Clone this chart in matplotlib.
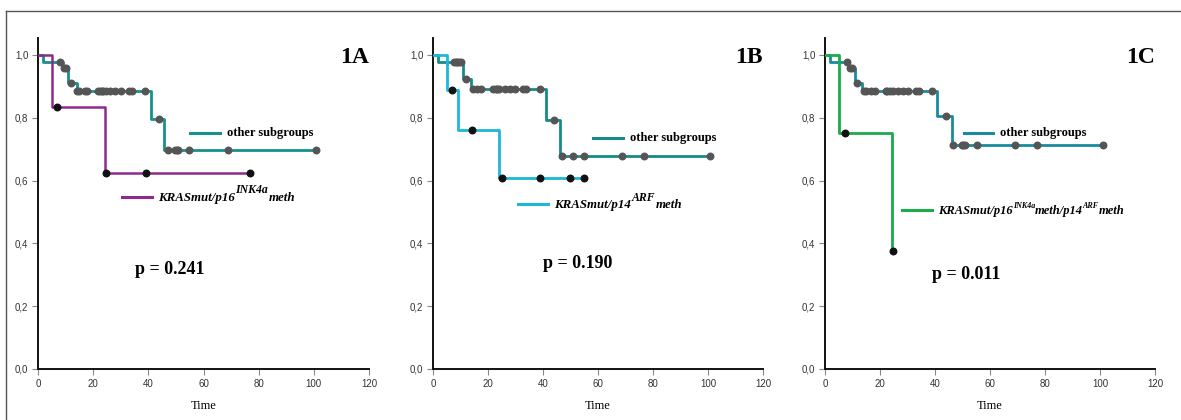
import numpy as np
import matplotlib.pyplot as plt
from matplotlib.lines import Line2D

# ---- data (Kaplan-Meier steps) ----
# panel 1A
a_other_t = [0, 1.9, 9.0, 11.0, 14.0, 41.0, 45.8, 100.8]
a_other_s = [1.0, 0.977, 0.960, 0.912, 0.885, 0.797, 0.697, 0.697]
a_other_cens = [8.1, 9.3, 10.0, 11.8, 14.3, 15.0, 17.0, 17.9, 21.9, 22.5, 23.1, 23.7,
                24.7, 26.1, 27.9, 30.0, 33.1, 33.9, 38.8, 44.0, 47.0, 49.7, 50.3,
                50.9, 54.9, 69.0, 100.8]
a_grp_t = [0, 5.0, 24.3, 76.9]
a_grp_s = [1.0, 0.833, 0.625, 0.625]
a_grp_cens = [7.0, 24.7, 39.0, 76.9]

# panel 1B
b_other_t = [0, 1.9, 10.8, 13.8, 41.1, 46.2, 100.7]
b_other_s = [1.0, 0.977, 0.924, 0.893, 0.793, 0.679, 0.679]
b_other_cens = [7.6, 8.3, 8.8, 9.5, 10.1, 12.0, 14.7, 16.1, 17.3, 21.9, 22.9, 23.4,
                24.1, 26.2, 28.0, 29.8, 32.8, 33.8, 38.9, 44.0, 46.8, 50.9, 54.9,
                68.9, 76.8, 100.7]
b_grp_t = [0, 5.0, 9.0, 24.0, 54.9]
b_grp_s = [1.0, 0.888, 0.762, 0.609, 0.609]
b_grp_cens = [6.8, 14.0, 25.1, 39.0, 49.9, 54.9]

# panel 1C
c_other_t = [0, 1.8, 8.9, 11.0, 13.5, 40.8, 46.2, 101.0]
c_other_s = [1.0, 0.977, 0.958, 0.912, 0.884, 0.806, 0.714, 0.714]
c_other_cens = [8.1, 9.1, 9.7, 11.8, 14.0, 14.9, 16.6, 18.2, 22.2, 22.7, 23.6, 24.8,
                26.7, 28.3, 30.1, 33.0, 34.0, 39.0, 44.0, 46.7, 49.7, 50.3, 50.9,
                55.2, 69.2, 77.0, 101.0]
c_grp_t = [0, 5.2, 24.4]
c_grp_s = [1.0, 0.75, 0.375]
c_grp_cens = [7.2, 24.7]

panel_names = ['1A', '1B', '1C']
p_values = ['p = 0.241', 'p = 0.190', 'p = 0.011']
# (text, is_superscript)
grp_labels = [
    [('KRASmut/p16', False), ('INK4a', True), ('meth', False)],
    [('KRASmut/p14', False), ('ARF', True), ('meth', False)],
    [('KRASmut/p16', False), ('INK4a', True), ('meth/p14', False), ('ARF', True), ('meth', False)],
]
x_ticks = [0, 20, 40, 60, 80, 100, 120]
y_ticks = [0.0, 0.2, 0.4, 0.6, 0.8, 1.0]
y_ticklabels = ['0,0', '0,2', '0,4', '0,6', '0,8', '1,0']

panels = [
    dict(other=(a_other_t, a_other_s, a_other_cens), grp=(a_grp_t, a_grp_s, a_grp_cens),
         other_col='#17908e', grp_col='#8e2a8c', grp_lw=1.8,
         leg_other=(55.1, 66.0, 0.752), leg_grp=(30.3, 41.2, 0.549), p_pos=(35.2, 0.317),
         fs=9.3, sup_fs=8.5, rise=5.5, gap=0.4),
    dict(other=(b_other_t, b_other_s, b_other_cens), grp=(b_grp_t, b_grp_s, b_grp_cens),
         other_col='#158a88', grp_col='#1cb7da', grp_lw=2.0,
         leg_other=(58.3, 69.2, 0.737), leg_grp=(31.0, 41.9, 0.525), p_pos=(39.9, 0.337),
         fs=9.3, sup_fs=8.5, rise=5.5, gap=0.4),
    dict(other=(c_other_t, c_other_s, c_other_cens), grp=(c_grp_t, c_grp_s, c_grp_cens),
         other_col='#1a8a9e', grp_col='#1aab4a', grp_lw=2.0,
         leg_other=(50.7, 61.2, 0.752), leg_grp=(27.9, 38.8, 0.506), p_pos=(38.8, 0.302),
         fs=9.0, sup_fs=5.8, rise=4.5, gap=0.0),
]

fig = plt.figure(figsize=(11.81, 4.20), dpi=100)

# outer frame (top and left edge of the figure box)
fig.add_artist(Line2D([6 / 1181, 6 / 1181], [0, 1 - 11 / 420], color='#555555', lw=1.0))
fig.add_artist(Line2D([6 / 1181, 1], [1 - 11 / 420, 1 - 11 / 420], color='#555555', lw=1.0))

lefts = [38, 433, 825]
widths = [331, 330, 330]


def surv_at(t_steps, s_steps, t):
    i = np.searchsorted(t_steps, t, side='right') - 1
    return np.array(s_steps)[i]


def rich_label(ax, x, y, parts, fs, sup_fs, rise, gap):
    # y is the visual centre; place pieces on a common baseline
    yb = y - 0.013
    style = dict(family='Liberation Serif', fontweight='bold', fontstyle='italic')
    prev = ax.text(x, yb, parts[0][0], fontsize=fs, va='baseline', ha='left', **style)
    for txt, sup in parts[1:]:
        prev = ax.annotate(txt, xy=(1, yb), xycoords=(prev, 'data'),
                           xytext=(gap, rise if sup else 0), textcoords='offset points',
                           fontsize=sup_fs if sup else fs, va='baseline', ha='left', **style)


for k, pan in enumerate(panels):
    ax = fig.add_axes([lefts[k] / 1181, 1 - 369 / 420, widths[k] / 1181, 331 / 420])

    # other subgroups underneath, group curve on top
    for key, col, lw, mcol in [('other', pan['other_col'], 2.0, '#555555'),
                               ('grp', pan['grp_col'], pan['grp_lw'], '#111111')]:
        t, s, cens = pan[key]
        ax.step(t, s, where='post', color=col, lw=lw, zorder=3 if key == 'grp' else 2)
        cy = surv_at(t, s, np.array(cens))
        ax.plot(cens, cy, 'o', color=mcol, ms=4.7, zorder=4, clip_on=False)

    # legend handles drawn in place
    x0, x1, yy = pan['leg_other']
    ax.plot([x0, x1], [yy, yy], color=pan['other_col'], lw=2.2)
    ax.text(x1 + 2.5, yy, 'other subgroups', family='Liberation Serif', fontweight='bold',
            fontsize=9, va='center', ha='left')
    x0, x1, yy = pan['leg_grp']
    ax.plot([x0, x1], [yy, yy], color=pan['grp_col'], lw=2.2)
    rich_label(ax, x1 + 2.3, yy, grp_labels[k], pan['fs'], pan['sup_fs'], pan['rise'],
               pan['gap'])

    ax.text(pan['p_pos'][0], pan['p_pos'][1], p_values[k], family='Liberation Serif',
            fontweight='bold', fontsize=13, va='center', ha='left')
    ax.text(1.0, 0.94, panel_names[k], transform=ax.transAxes, family='Liberation Serif',
            fontweight='bold', fontsize=17, va='center', ha='right')
    ax.text(0.5, -0.112, 'Time', transform=ax.transAxes, family='Liberation Serif',
            fontsize=9, va='center', ha='center')

    ax.set_xlim(0, 120)
    ax.set_ylim(0, 1.054)
    ax.set_xticks(x_ticks)
    ax.set_yticks(y_ticks)
    ax.set_yticklabels(y_ticklabels)
    for sp in ['top', 'right']:
        ax.spines[sp].set_visible(False)
    for sp in ['left', 'bottom']:
        ax.spines[sp].set_linewidth(1.4)
        ax.spines[sp].set_color('#111111')
    ax.tick_params(length=4, width=0.8, color='#888888', labelsize=7, labelcolor='#333333',
                   pad=3)
    for lab in ax.get_xticklabels() + ax.get_yticklabels():
        lab.set_family('Liberation Sans')
    ax.patch.set_alpha(0)

fig.savefig('out.png', dpi=100)
